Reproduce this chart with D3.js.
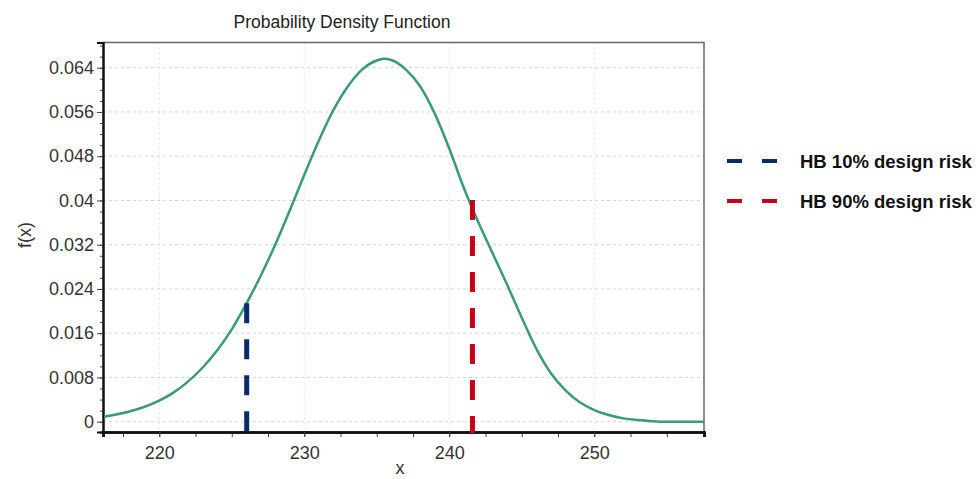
<html>
<head>
    <meta charset="utf-8">
    <script src="https://d3js.org/d3.v7.min.js"></script>
    <style>
        body { margin: 0; background: #fff; }
        text { font-family: "Liberation Sans", Arial, sans-serif; }
    </style>
</head>
<body>
<svg id="pdf" width="976" height="479"></svg>
<script>
    // curve
    const xs = [216.2, 217, 218, 219, 220, 221, 222, 223, 224, 225, 226, 227, 228, 229, 230, 231, 232, 233, 234, 235, 235.5,
                236, 237, 238, 239, 240, 241, 242, 243, 244, 245, 246, 247, 248, 249, 250, 251, 252, 253, 254, 255, 257.6];
    const fx = [0.0009, 0.0013, 0.0019, 0.0027, 0.0038, 0.0053, 0.0073, 0.0098, 0.0129, 0.0167, 0.0213, 0.0264, 0.0320, 0.0382, 0.0446, 0.0508, 0.0563, 0.0606, 0.0637, 0.0653, 0.0656,
                0.0654, 0.0637, 0.0606, 0.0557, 0.0494, 0.0423, 0.0361, 0.0304, 0.0247, 0.0188, 0.0132, 0.0088, 0.0057, 0.0035, 0.0021, 0.0012, 0.0006, 0.0003, 0.0001, 0.0, 0.0];

    const riskNames = ["HB 10% design risk", "HB 90% design risk"];
    const riskX = [226.03, 241.6];
    const riskTop = [0.0214, 0.0401];
    const riskColors = ["#0b2a66", "#c4001a"];

    const xMajor = [220, 230, 240, 250];
    const yMajor = [0, 0.008, 0.016, 0.024, 0.032, 0.04, 0.048, 0.056, 0.064];

    const svg = d3.select("#pdf");
    const plotL = 103, plotR = 704, plotT = 42.5, plotB = 432;

    const x = d3.scaleLinear().domain([216.12, 257.57]).range([plotL, plotR]);
    const y = d3.scaleLinear().domain([-0.001862, 0.06856]).range([plotB, plotT]);

    // grid
    svg.append("g").selectAll("line")
        .data(yMajor).join("line")
        .attr("x1", plotL).attr("x2", plotR)
        .attr("y1", d => y(d)).attr("y2", d => y(d))
        .attr("stroke", "#d4d4d4").attr("stroke-dasharray", "3,3");
    svg.append("g").selectAll("line")
        .data(xMajor).join("line")
        .attr("x1", d => x(d)).attr("x2", d => x(d))
        .attr("y1", plotT).attr("y2", plotB)
        .attr("stroke", "#e2e2e2").attr("stroke-dasharray", "2,3");

    // frame top/right
    svg.append("path")
        .attr("d", `M${plotL},${plotT}H${plotR}V${plotB}`)
        .attr("fill", "none").attr("stroke", "#666").attr("stroke-width", 1.5);

    // x axis
    const xAxis = svg.append("g").attr("transform", `translate(0,${plotB})`);
    xAxis.append("g").call(d3.axisBottom(x).tickValues(d3.range(217.5, 257.6, 2.5)).tickSize(5).tickFormat(""));
    xAxis.append("g").call(d3.axisBottom(x).tickValues(xMajor).tickSize(5).tickPadding(9).tickFormat(d3.format("d")));
    xAxis.selectAll(".domain").attr("stroke", "#111").attr("stroke-width", 2.5);
    xAxis.selectAll("line").attr("stroke", "#444");
    xAxis.selectAll("text").attr("font-size", 18).attr("fill", "#333")
        .attr("font-family", "'Liberation Sans', Arial, sans-serif");

    // y axis
    const yAxis = svg.append("g").attr("transform", `translate(${plotL},0)`);
    yAxis.append("g").call(d3.axisLeft(y).tickValues(d3.range(0, 0.0685, 0.002)).tickSize(3).tickFormat(""));
    yAxis.append("g").call(d3.axisLeft(y).tickValues(yMajor).tickSize(6).tickPadding(3).tickFormat(d => String(+d.toFixed(3))));
    yAxis.selectAll(".domain").attr("stroke", "#111").attr("stroke-width", 2);
    yAxis.selectAll("line").attr("stroke", "#444");
    yAxis.selectAll("text").attr("font-size", 18).attr("fill", "#333")
        .attr("font-family", "'Liberation Sans', Arial, sans-serif");

    // pdf curve
    const line = d3.line().x((d, i) => x(xs[i])).y(d => y(d)).curve(d3.curveMonotoneX);
    svg.append("path")
        .datum(fx)
        .attr("d", line)
        .attr("fill", "none")
        .attr("stroke", "#3a9b78")
        .attr("stroke-width", 2.5);

    // design risk lines
    svg.append("g").selectAll("line")
        .data(riskX).join("line")
        .attr("x1", d => x(d)).attr("x2", d => x(d))
        .attr("y1", (d, i) => y(riskTop[i])).attr("y2", plotB + 1)
        .attr("stroke", (d, i) => riskColors[i])
        .attr("stroke-width", 5)
        .attr("stroke-dasharray", "20,16");

    // titles
    svg.append("text").attr("x", 342).attr("y", 28)
        .attr("text-anchor", "middle").attr("font-size", 17.5).attr("fill", "#222")
        .text("Probability Density Function");
    svg.append("text").attr("transform", "translate(31,235) rotate(-90)")
        .attr("text-anchor", "middle").attr("font-size", 18).attr("fill", "#333")
        .text("f(x)");
    svg.append("text").attr("x", 400).attr("y", 474)
        .attr("text-anchor", "middle").attr("font-size", 18).attr("fill", "#333")
        .text("x");

    // legend
    const legend = svg.append("g").selectAll("g")
        .data(riskNames).join("g")
        .attr("transform", (d, i) => `translate(727,${161 + i * 40})`);
    legend.append("line")
        .attr("x1", 0).attr("x2", 52)
        .attr("stroke", (d, i) => riskColors[i])
        .attr("stroke-width", 4)
        .attr("stroke-dasharray", "15,20");
    legend.append("text")
        .attr("x", 73).attr("y", 6.5)
        .attr("font-size", 18.5).attr("font-weight", "bold").attr("fill", "#111")
        .text(d => d);
</script>
</body>
</html>
